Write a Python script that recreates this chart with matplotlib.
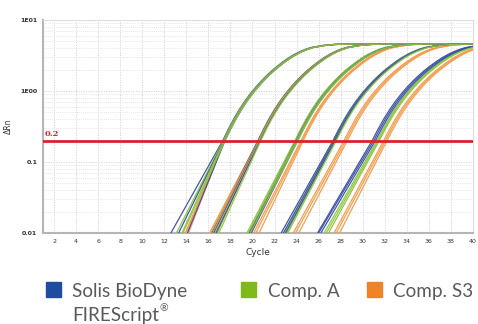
import matplotlib
matplotlib.use('Agg')
import matplotlib.pyplot as plt
from matplotlib.patches import Rectangle

# kits / legend
kit_names = ['Solis BioDyne', 'Comp. A', 'Comp. S3']
kit_colors = ['#1f4c9e', '#80b91a', '#f08326']
line_colors = ['#3a4fa3', '#8cc63c', '#f49a48']

# cycle where each well crosses the 0.2 threshold (per dilution group)
ct_blue = [[17.3, 17.4, 17.5], [20.5, 20.6, 20.7], [23.9, 24.0, 24.1],
           [27.3, 27.4, 27.5], [30.85, 31.0, 31.15]]
ct_green = [[17.35, 17.4, 17.5], [20.55, 20.6, 20.75], [23.85, 24.0, 24.1],
            [27.4, 27.5, 27.6], [31.3, 31.4, 31.5]]
ct_orange = [[17.4, 17.45, 17.5], [20.5, 20.6, 20.65], [24.4, 24.5, 24.6],
             [28.3, 28.45, 28.6], [31.9, 32.05, 32.2]]

# cycle where each well leaves the bottom of the plot (0.01)
low_blue = [[12.6, 13.3, 14.1], [16.3, 16.5, 16.7], [19.7, 19.8, 19.9],
            [22.6, 22.8, 23.0], [25.9, 26.0, 26.2]]
low_green = [[13.1, 13.6, 13.7], [16.4, 16.8, 16.95], [19.5, 19.6, 19.8],
             [22.9, 23.1, 23.2], [26.5, 26.7, 26.9]]
low_orange = [[14.0, 14.2, 13.9], [16.1, 16.2, 16.6], [20.1, 20.3, 20.6],
              [23.7, 23.9, 24.2], [27.4, 27.6, 27.9]]

# shared shape of the curve above the threshold (cycles after Ct, dRn)
upper_offset = [0, 0.5, 1, 1.5, 2, 2.5, 3, 3.5, 4, 4.5, 5, 5.5, 6, 6.5, 7, 7.5,
                8, 9, 10, 11, 12, 14, 25]
upper_drn = [0.2, 0.288, 0.404, 0.548, 0.718, 0.914, 1.137, 1.387, 1.663, 1.959,
             2.27, 2.606, 2.951, 3.281, 3.589, 3.864, 4.093, 4.365, 4.519, 4.571,
             4.592, 4.613, 4.624]
group_stretch = [1.0, 1.0, 1.02, 1.04, 1.06]

threshold = 0.2
x_ticks = list(range(2, 41, 2))
y_ticks = [0.01, 0.1, 1, 10]
y_tick_labels = ['0.01', '0.1', '1E00', '1E01']

W, H = 478, 324
fig = plt.figure(figsize=(W / 100, H / 100), dpi=100)
ax = fig.add_axes([43 / W, 1 - 233 / H, 430 / W, 213 / H])
ax.set_yscale('log')
ax.set_xlim(1, 40)
ax.set_ylim(0.01, 10)

ax.set_xticks(x_ticks)
ax.set_xticklabels([str(t) for t in x_ticks])
ax.set_yticks(y_ticks)
ax.set_yticklabels(y_tick_labels)
ax.tick_params(axis='both', length=0, labelsize=4.5, labelcolor='#333333', pad=4)
for lab in ax.get_yticklabels():
    lab.set_fontweight('bold')
ax.minorticks_on()
ax.tick_params(which='minor', length=0)
ax.xaxis.set_minor_locator(matplotlib.ticker.NullLocator())
ax.yaxis.set_minor_formatter(matplotlib.ticker.NullFormatter())

ax.grid(which='major', color='#d2d2d2', lw=0.6, ls=(0, (1.5, 1.5)))
ax.grid(which='minor', axis='y', color='#e0e0e0', lw=0.5, ls=(0, (1.5, 1.5)))
ax.set_axisbelow(True)

for side in ['top', 'right']:
    ax.spines[side].set_color('#dddddd')
    ax.spines[side].set_linewidth(0.8)
for side in ['left', 'bottom']:
    ax.spines[side].set_color('#b5b5b5')
    ax.spines[side].set_linewidth(1.5)

ax.set_xlabel('Cycle', fontsize=6.5, color='#333333', labelpad=3)
ax.set_ylabel('ΔRn', fontsize=5.5, color='#333333', labelpad=5)

ct_sets = [ct_blue, ct_green, ct_orange]
low_sets = [low_blue, low_green, low_orange]
for g in range(5):
    for r in range(3):
        for k in [2, 0, 1]:
            ct = ct_sets[k][g][r]
            lo = low_sets[k][g][r]
            xs = [lo] + [ct + o * group_stretch[g] for o in upper_offset]
            ys = [0.01] + upper_drn
            ax.plot(xs, ys, color=line_colors[k], lw=0.9, alpha=0.95,
                    solid_capstyle='butt', solid_joinstyle='round', zorder=3)

ax.axhline(threshold, color='#d4252b', lw=2.0, zorder=4)
ax.text(1.15, threshold * 1.09, '0.2', color='#d4252b', fontsize=6,
        fontweight='bold', family='DejaVu Serif', va='bottom', ha='left', zorder=5)

# legend below the chart
sq_x = [46, 241, 367]
tx_x = [72, 268, 393]
font = ['Lato', 'DejaVu Sans']
for k in range(3):
    fig.patches.append(Rectangle((sq_x[k] / W, 1 - 297 / H), 15 / W, 15 / H,
                                 transform=fig.transFigure, color=kit_colors[k]))
    fig.text(tx_x[k] / W, 1 - 297 / H, kit_names[k], fontsize=13.6,
             color='#5a5a5a', family=font, va='baseline', ha='left')

t2 = fig.text(tx_x[0] / W, 1 - 321 / H, 'FIREScript', fontsize=13.6,
              color='#5a5a5a', family=font, va='baseline', ha='left')
fig.canvas.draw()
bb = t2.get_window_extent()
fig.text(bb.x1 / W + 0.002, 1 - 311 / H, '®', fontsize=7.5,
         color='#5a5a5a', family=font, va='baseline', ha='left')

fig.savefig('out.png', dpi=100)
